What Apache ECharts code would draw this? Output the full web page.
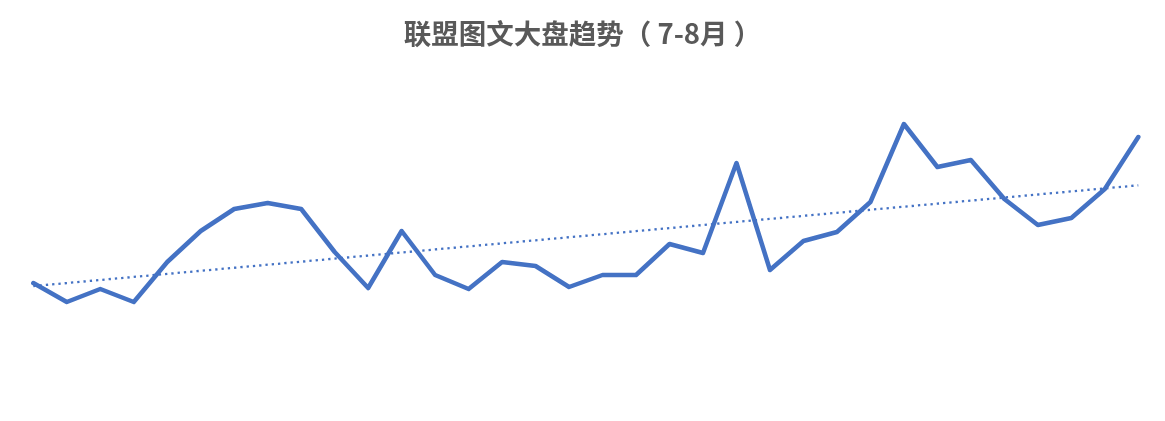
<!DOCTYPE html>
<html>
<head>
<meta charset="utf-8">
<script src="https://cdn.jsdelivr.net/npm/echarts@6/dist/echarts.min.js"></script>
<style>html,body{margin:0;padding:0;background:#fff;}#c{width:1165px;height:421px;}</style>
</head>
<body>
<div id="c"></div>
<script>
var titleText = '联盟图文大盘趋势（ 7-8月 ）';
var categories = ['7/1','7/2','7/3','7/4','7/5','7/6','7/7','7/8','7/9','7/10','7/11','7/12','7/13','7/14','7/15','7/16','7/17','7/18','7/19','7/20','7/21','7/22','7/23','7/24','7/25','7/26','7/27','7/28','7/29','7/30','7/31','8/1','8/2','8/3'];
var values = [117,98,111,98,138,169,191,197,191,148,112,169,125,111,138,134,113,125,125,156,147,237,130,159,168,198,276,233,240,201,175,182,211,263];

// linear trend (least squares) computed from the series values
var n = values.length, sx = 0, sy = 0, sxy = 0, sxx = 0;
for (var i = 0; i < n; i++) { sx += i; sy += values[i]; sxy += i * values[i]; sxx += i * i; }
var slope = (n * sxy - sx * sy) / (n * sxx - sx * sx);
var intercept = (sy - slope * sx) / n;
var trend = values.map(function (v, i) { return +(intercept + slope * i).toFixed(2); });

var chart = echarts.init(document.getElementById('c'));
chart.setOption({
  animation: false,
  title: {
    text: titleText,
    left: 'center',
    top: 15,
    textStyle: { fontFamily: 'Noto Sans CJK SC', fontWeight: 'bold', fontSize: 27.5, color: '#595959' }
  },
  grid: { left: 33.3, right: 26.7, top: 100, bottom: 21 },
  xAxis: { type: 'category', data: categories, boundaryGap: false, show: false },
  yAxis: { type: 'value', min: 0, max: 300, show: false },
  series: [
    { type: 'line', data: values, symbol: 'none', clip: false,
      lineStyle: { color: '#4472C4', width: 4.5, join: 'round', cap: 'round' } },
    { type: 'line', data: trend, symbol: 'none', clip: false,
      lineStyle: { color: '#4472C4', width: 2.3, type: [2.3, 4] } }
  ]
});
</script>
</body>
</html>
